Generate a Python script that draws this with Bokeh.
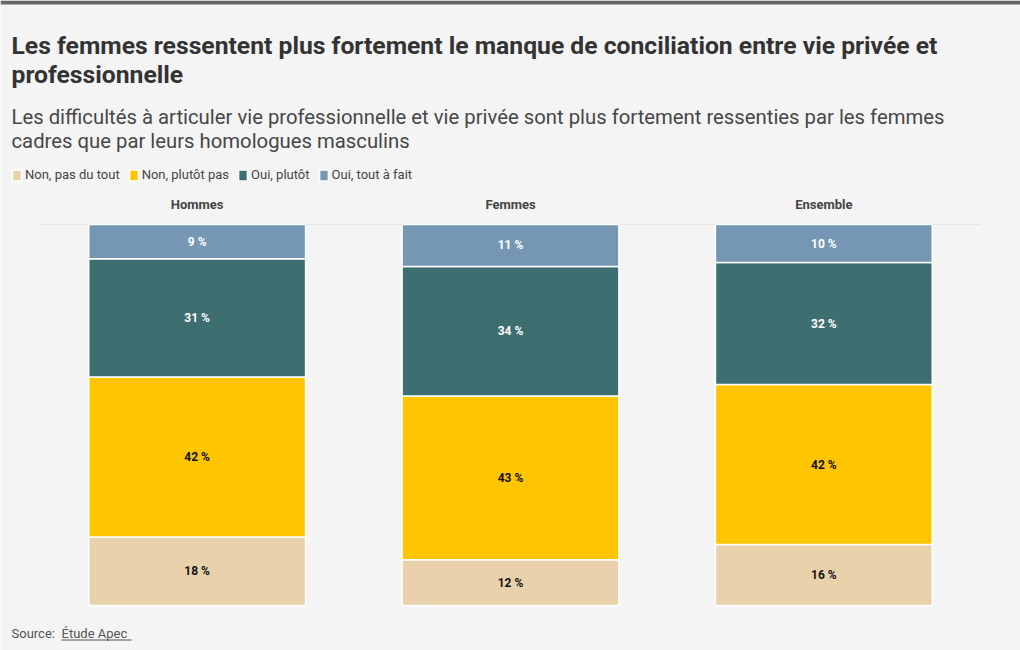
import numpy as np
from bokeh.plotting import figure
from bokeh.models import (ColumnDataSource, FactorRange, Range1d, Label, Legend, LegendItem,
                          BoxAnnotation)
from bokeh.transform import dodge
from bokeh.core.properties import value
from bokeh.embed import file_html
from bokeh.resources import INLINE

# ---- data ----
categories = ["Hommes", "Femmes", "Ensemble"]
series = ["Non, pas du tout", "Non, plutôt pas", "Oui, plutôt", "Oui, tout à fait"]
non_pas_du_tout = [18, 12, 16]
non_plutot_pas = [42, 43, 42]
oui_plutot = [31, 34, 32]
oui_tout_a_fait = [9, 11, 10]
SCALE_MAX = 100

colors = ["#e9d1ab", "#ffc500", "#3d6e70", "#7597b3"]
label_colors = ["#111111", "#111111", "#ffffff", "#ffffff"]
FONT = "Roboto"
BG = "#f4f4f4"
W, H = 1020, 650

keys = ["s0", "s1", "s2", "s3"]
data = {"cat": categories}
for k, vals in zip(keys, [non_pas_du_tout, non_plutot_pas, oui_plutot, oui_tout_a_fait]):
    data[k] = vals
source = ColumnDataSource(data)

# the plot frame covers the whole canvas; ranges are padded so that the 0-100 scale
# occupies the central chart area
p = figure(width=W, height=H,
           x_range=FactorRange(*categories, range_padding=0.0851),
           y_range=Range1d(-11.81, 158.79), output_backend="svg", toolbar_location=None,
           x_axis_location=None, y_axis_location=None,
           min_border_left=0, min_border_right=0, min_border_top=0, min_border_bottom=0)
p.background_fill_color = BG
p.border_fill_color = BG
p.outline_line_color = None
p.xgrid.grid_line_color = None
p.ygrid.grid_line_color = None

# faint top rule of the 0-100 scale, spanning the category band
rule = ColumnDataSource(dict(a=[categories[0]], b=[categories[-1]], y=[SCALE_MAX]))
p.segment(x0=dodge("a", -0.5, range=p.x_range), x1=dodge("b", 0.5, range=p.x_range),
          y0="y", y1="y", source=rule, line_color="#e6e6e6", line_width=1)

rs = p.vbar_stack(keys, x="cat", width=0.692, source=source, color=colors,
                  line_color="white", line_width=1.5)

# segment labels
vals_all = np.array([non_pas_du_tout, non_plutot_pas, oui_plutot, oui_tout_a_fait], dtype=float)
cum = np.cumsum(vals_all, axis=0)
for i in range(4):
    mids = cum[i] - vals_all[i] / 2
    src = ColumnDataSource(dict(x=categories, y=list(mids),
                                t=[f"{int(v)}\u00a0%" for v in vals_all[i]]))
    p.text(x="x", y="y", text="t", source=src, text_align="center", text_baseline="middle",
           text_font=value(FONT), text_font_size="12px", text_font_style="bold",
           text_color=label_colors[i])

# facet headers
hsrc = ColumnDataSource(dict(x=categories, y=[SCALE_MAX] * len(categories), t=categories))
p.text(x="x", y="y", text="t", source=hsrc, text_align="center", text_baseline="middle",
       y_offset=-20, text_font=value(FONT), text_font_size="13px", text_font_style="bold",
       text_color="#444444")

# legend
legend = Legend(items=[LegendItem(label=s, renderers=[r]) for s, r in zip(series, rs)],
                orientation="horizontal", location=(11, 468))
legend.padding = 0
legend.margin = 0
legend.spacing = 8
legend.label_standoff = 3
legend.glyph_width = 11
legend.glyph_height = 14
legend.label_height = 14
legend.label_text_font = FONT
legend.label_text_font_size = "13px"
legend.label_text_color = "#444444"
legend.label_text_baseline = "middle"
legend.border_line_color = None
legend.background_fill_alpha = 0
p.add_layout(legend, "center")

# top rule of the page
p.add_layout(BoxAnnotation(bottom=H - 4, bottom_units="screen", fill_color="#666666",
                           fill_alpha=1, line_color=None))

# titles
def lab(text, x, y, size, style="normal", color="#333333"):
    p.add_layout(Label(x=x, y=y, x_units="screen", y_units="screen", text=text,
                       text_font=FONT, text_font_size=f"{size}px", text_font_style=style,
                       text_color=color, text_baseline="alphabetic", text_align="left"))

lab("Les femmes ressentent plus fortement le manque de conciliation entre vie privée et",
    11, H - 53 + 8, 24.7, "bold", "#333333")
lab("professionnelle", 11, H - 82 + 8, 24.7, "bold", "#333333")
lab("Les difficultés à articuler vie professionnelle et vie privée sont plus fortement ressenties par les femmes",
    11, H - 123 + 7, 20.3, "normal", "#474747")
lab("cadres que par leurs homologues masculins", 11, H - 147 + 7, 20.3, "normal", "#474747")
lab("Source:", 11, H - 638 + 5, 13, "normal", "#555555")
lab("Étude Apec", 61, H - 638 + 5, 13, "normal", "#555555")
p.add_layout(BoxAnnotation(left=61, right=131, bottom=H - 640, top=H - 639,
                           left_units="screen", right_units="screen",
                           bottom_units="screen", top_units="screen",
                           fill_color="#555555", fill_alpha=1, line_color=None))

html = file_html(p, INLINE)
open("out.html", "w").write(html)
